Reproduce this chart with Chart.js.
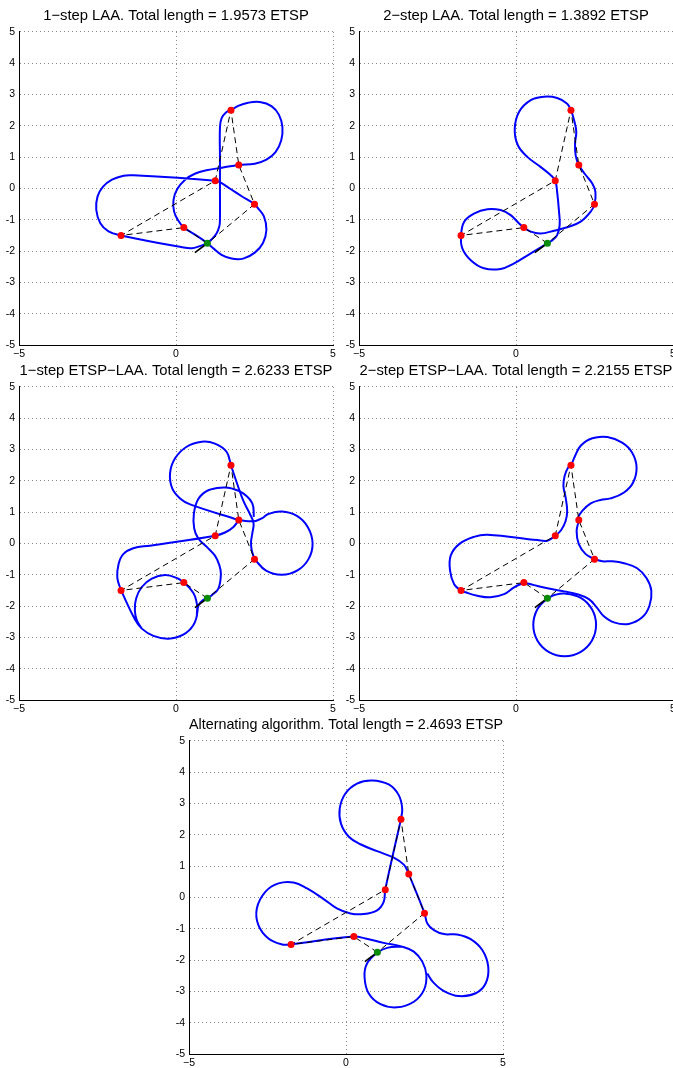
<!DOCTYPE html>
<html lang="en">
<head>
<meta charset="UTF-8">
<title>LAA paths</title>
<script src="https://cdn.jsdelivr.net/npm/chart.js"></script>
<style>
  html, body { margin: 0; padding: 0; background: #fff; overflow: hidden; }
  .panel { position: absolute; }
</style>
</head>
<body>
<div class="panel" style="left:0px;top:0px"><canvas id="c1" width="345" height="365"></canvas></div>
<div class="panel" style="left:340px;top:0px"><canvas id="c2" width="345" height="365"></canvas></div>
<div class="panel" style="left:0px;top:355px"><canvas id="c3" width="345" height="365"></canvas></div>
<div class="panel" style="left:340px;top:355px"><canvas id="c4" width="345" height="365"></canvas></div>
<div class="panel" style="left:170px;top:709px"><canvas id="c5" width="345" height="365"></canvas></div>

<script>
// targets (red), start point (green), ETSP tour (dashed)
const cities = [[1.75, 2.5], [2, 0.75], [1.25, 0.25], [2.5, -0.5], [0.25, -1.25], [-1.75, -1.5]];
const startPt = [1, -1.75];
const tour = [[1, -1.75], [0.25, -1.25], [-1.75, -1.5], [1.25, 0.25], [1.75, 2.5], [2, 0.75], [2.5, -0.5], [1, -1.75]];
const heading = [[1, -1.75], [0.6, -2.05]];

const titles = [
  '1\u2212step LAA. Total length = 1.9573 ETSP',
  '2\u2212step LAA. Total length = 1.3892 ETSP',
  '1\u2212step ETSP\u2212LAA. Total length = 2.6233 ETSP',
  '2\u2212step ETSP\u2212LAA. Total length = 2.2155 ETSP',
  'Alternating algorithm. Total length = 2.4693 ETSP'
];

// paths, one list per stroke
const path1 = [[1,-1.75],[1.13,-1.63],[1.29,-1.44],[1.38,-1.21],[1.40,-1.0],[1.40,-0.05],[1.40,1.0],[1.40,1.95],[1.45,2.24],[1.59,2.43],[1.75,2.5],[1.98,2.64],[2.30,2.74],[2.67,2.76],[3.04,2.63],[3.28,2.35],[3.39,1.95],[3.35,1.53],[3.17,1.16],[2.88,0.92],[2.51,0.79],[2,0.75],[1.50,0.67],[0.97,0.58],[0.60,0.47],[0.29,0.28],[0.04,-0.02],[-0.08,-0.37],[-0.06,-0.74],[0.07,-1.02],[0.25,-1.25],[0.55,-1.44],[0.81,-1.61],[1,-1.75],[1.21,-1.93],[1.45,-2.12],[1.77,-2.24],[2.14,-2.24],[2.51,-2.05],[2.77,-1.74],[2.88,-1.32],[2.80,-0.89],[2.61,-0.63],[2.5,-0.5],[2.08,-0.24],[1.71,0.0],[1.40,0.2],[1.25,0.25],[-1.35,0.42],[-1.67,0.41],[-2.04,0.28],[-2.33,0.05],[-2.50,-0.26],[-2.54,-0.68],[-2.41,-1.11],[-2.15,-1.37],[-1.75,-1.5],[0.2,-1.88],[0.50,-1.91],[0.76,-1.84],[1,-1.75]];

const path2 = [[1,-1.75],[0.47,-2.07],[-0.06,-2.39],[-0.49,-2.57],[-1.02,-2.55],[-1.44,-2.29],[-1.71,-1.91],[-1.75,-1.5],[-1.65,-1.06],[-1.34,-0.80],[-0.91,-0.66],[-0.49,-0.69],[-0.17,-0.85],[0.10,-1.12],[0.25,-1.25],[0.47,-1.38],[0.78,-1.44],[1.21,-1.35],[1.63,-1.24],[2.06,-1.06],[2.38,-0.74],[2.5,-0.5],[2.53,-0.11],[2.43,0.16],[2.22,0.43],[2,0.75],[1.90,1.06],[1.88,1.44],[1.92,1.81],[1.85,2.18],[1.75,2.5],[1.63,2.71],[1.31,2.89],[0.89,2.93],[0.47,2.82],[0.10,2.45],[-0.04,1.91],[0.06,1.38],[0.36,1.01],[0.78,0.69],[1.10,0.43],[1.25,0.25],[1.31,-0.11],[1.37,-0.74],[1.39,-1.17],[1.31,-1.49],[1.16,-1.65],[1,-1.75]];

const path3a = [[2,0.75],[0.45,1.25],[0.13,1.44],[-0.12,1.76],[-0.19,2.24],[-0.03,2.72],[0.34,3.09],[0.82,3.25],[1.24,3.19],[1.61,2.93],[1.75,2.5],[1.95,1.9],[2.15,1.35],[2.35,0.95],[2.47,0.65],[2.43,0.32],[2.39,0.05],[2.41,-0.21],[2.5,-0.5]];
const path3b = [[2.48,0.85],[2.43,1.28],[2.14,1.60],[1.77,1.76],[1.51,1.79],[1.03,1.70],[0.71,1.42],[0.57,0.96],[0.58,0.48],[0.71,0.16],[0.98,-0.11],[1.24,-0.39],[1.38,-0.69],[1.43,-0.98],[1.35,-1.44],[1.14,-1.65],[1,-1.75]];
const path3c = [[2,0.75],[2.30,0.71],[2.54,0.72],[2.73,0.80],[2.94,0.94],[3.37,1.02],[3.85,0.88],[4.2,0.52],[4.35,0.0],[4.22,-0.5],[3.87,-0.86],[3.37,-1.0],[2.87,-0.87],[2.5,-0.5]];
const path3d = [[-1.75,-1.5],[-1.87,-1.09],[-1.83,-0.66],[-1.68,-0.34],[-1.36,-0.15],[-0.83,-0.07],[1.25,0.25],[1.56,0.35],[1.83,0.53],[2,0.75]];
const path3e = [[-1.75,-1.5],[-1.31,-2.42],[-1.09,-2.72],[-0.72,-2.95],[-0.24,-3.04],[0.23,-2.91],[0.55,-2.61],[0.68,-2.18],[0.61,-1.70],[0.45,-1.44],[0.25,-1.25],[0.02,-1.10],[-0.35,-1.01],[-0.77,-1.12],[-1.09,-1.39],[-1.27,-1.76],[-1.31,-2.13],[-1.25,-2.45],[-1.09,-2.72]];
const path3f = [[0.66,-2.25],[0.72,-1.97],[0.84,-1.82],[1,-1.75]];

const path4a = [[0.25,-1.25],[-0.06,-1.40],[-0.38,-1.62],[-0.81,-1.72],[-1.23,-1.67],[-1.60,-1.56],[-1.75,-1.5],[-1.97,-1.30],[-2.10,-0.87],[-2.08,-0.39],[-1.81,-0.02],[-1.34,0.21],[-0.91,0.28],[0.68,0.11],[1.0,0.09],[1.25,0.25],[1.44,0.43],[1.58,0.72],[1.63,1.04],[1.58,1.47],[1.51,1.84],[1.55,2.16],[1.66,2.43],[1.75,2.5],[1.87,2.77],[2.06,3.12],[2.43,3.36],[2.91,3.40],[3.38,3.22],[3.70,2.90],[3.84,2.43],[3.73,1.95],[3.44,1.63],[3.01,1.44],[2.69,1.39],[2.38,1.28],[2.11,1.04],[1.97,0.81],[2,0.75],[1.93,0.40],[2.0,-0.02],[2.22,-0.34],[2.5,-0.5]];
const path4b = [[2.5,-0.5],[2.75,-0.57],[3.06,-0.57],[3.44,-0.63],[3.86,-0.79],[4.16,-1.11],[4.31,-1.51],[4.25,-1.99],[4.02,-2.36],[3.59,-2.57],[3.12,-2.52],[2.78,-2.31],[2.57,-2.04],[2.32,-1.78],[1.95,-1.62],[1.53,-1.53],[1.0,-1.43],[0.57,-1.33],[0.25,-1.25]];
const path4c = [[1,-1.75],[1.25,-1.64],[1.55,-1.6],[2.05,-1.73],[2.42,-2.1],[2.55,-2.6],[2.42,-3.1],[2.05,-3.47],[1.55,-3.6],[1.05,-3.47],[0.68,-3.1],[0.55,-2.6],[0.68,-2.1],[1,-1.75]];

const path5a = [[1.75,2.5],[1.79,2.84],[1.68,3.27],[1.36,3.61],[0.83,3.74],[0.35,3.64],[-0.02,3.32],[-0.20,2.84],[-0.16,2.36],[0.09,1.94],[0.46,1.70],[0.99,1.48],[1.52,1.27],[1.84,1.05],[1.95,0.87],[2,0.75]];
const path5b = [[1.75,2.5],[1.25,0.25],[1.20,-0.14],[0.99,-0.41],[0.56,-0.53],[0.14,-0.51],[-0.29,-0.35],[-0.71,-0.05],[-1.24,0.29],[-1.67,0.48],[-2.15,0.45],[-2.57,0.18],[-2.84,-0.35],[-2.79,-0.88],[-2.47,-1.31],[-2.04,-1.50],[-1.75,-1.5]];
const path5c = [[-1.75,-1.5],[0.25,-1.25],[0.62,-1.31],[1.20,-1.45],[1.79,-1.57],[2.16,-1.73],[2.43,-2.05],[2.56,-2.48],[2.48,-2.96],[2.16,-3.33],[1.62,-3.51],[1.10,-3.41],[0.72,-3.06],[0.59,-2.53],[0.67,-2.11],[0.99,-1.77],[1.31,-1.61],[1.79,-1.57]];
const path5d = [[2,0.75],[2.5,-0.5],[2.59,-0.83],[2.80,-1.04],[3.12,-1.17],[3.54,-1.18],[3.97,-1.33],[4.34,-1.68],[4.53,-2.21],[4.45,-2.74],[4.13,-3.06],[3.60,-3.15],[3.12,-2.99],[2.78,-2.71],[2.59,-2.43]];

const xTicks = [-5, 0, 5];
const yTicks = [-5, -4, -3, -2, -1, 0, 1, 2, 3, 4, 5];

function toXY(arr) {
  return arr.map(p => ({ x: p[0], y: p[1] }));
}

function buildPanel(canvasId, title, pieces) {
  const datasets = [];
  datasets.push({ data: toXY(cities), showLine: false, pointRadius: 3.5, pointBackgroundColor: '#ff0000', pointBorderWidth: 0 });
  datasets.push({ data: toXY([startPt]), showLine: false, pointRadius: 3.5, pointBackgroundColor: '#0a8c0a', pointBorderWidth: 0 });
  datasets.push({ data: toXY(tour), showLine: true, borderColor: '#000', borderWidth: 1, borderDash: [6, 4], pointRadius: 0, tension: 0 });
  datasets.push({ data: toXY(heading), showLine: true, borderColor: '#000', borderWidth: 1.6, pointRadius: 0, tension: 0 });
  pieces.forEach(pc => {
    datasets.push({ data: toXY(pc), showLine: true, borderColor: '#0000ff', borderWidth: 2, pointRadius: 0, tension: 0.4 });
  });

  new Chart(document.getElementById(canvasId), {
    type: 'scatter',
    data: { datasets: datasets },
    options: {
      responsive: false,
      animation: false,
      events: [],
      layout: { padding: { top: 0, left: 0, right: 12, bottom: 0 } },
      plugins: {
        legend: { display: false },
        tooltip: { enabled: false },
        title: {
          display: true,
          text: title,
          fullSize: false,
          color: '#000',
          font: { family: 'Liberation Sans, Arial, sans-serif', size: 14.8, weight: 'normal', lineHeight: 1.2 },
          padding: { top: 7, bottom: 7.2 }
        }
      },
      scales: {
        x: {
          type: 'linear', position: 'bottom', min: -5, max: 5,
          afterFit: s => { s.height = 20; },
          afterBuildTicks: s => { s.ticks = xTicks.map(v => ({ value: v })); },
          ticks: {
            color: '#000', padding: 3, autoSkip: false, maxRotation: 0,
            font: { family: 'Liberation Sans, Arial, sans-serif', size: 10.5 },
            callback: v => v < 0 ? '\u2212' + (-v) : '' + v
          },
          grid: { color: '#8a8a8a', lineWidth: 1, drawTicks: false },
          border: { display: true, color: '#000', width: 1, dash: [1, 3] }
        },
        y: {
          type: 'linear', position: 'left', min: -5, max: 5,
          afterFit: s => { s.width = 19; },
          afterBuildTicks: s => { s.ticks = yTicks.map(v => ({ value: v })); },
          ticks: {
            color: '#000', padding: 4, autoSkip: false,
            font: { family: 'Liberation Sans, Arial, sans-serif', size: 10.5 },
            callback: v => v < 0 ? '-' + (-v) : '' + v
          },
          grid: { color: '#8a8a8a', lineWidth: 1, drawTicks: false },
          border: { display: true, color: '#000', width: 1, dash: [1, 3] }
        }
      }
    }
  });
}

buildPanel('c1', titles[0], [path1]);
buildPanel('c2', titles[1], [path2]);
buildPanel('c3', titles[2], [path3a, path3b, path3c, path3d, path3e, path3f]);
buildPanel('c4', titles[3], [path4a, path4b, path4c]);
buildPanel('c5', titles[4], [path5a, path5b, path5c, path5d]);
</script>
</body>
</html>
